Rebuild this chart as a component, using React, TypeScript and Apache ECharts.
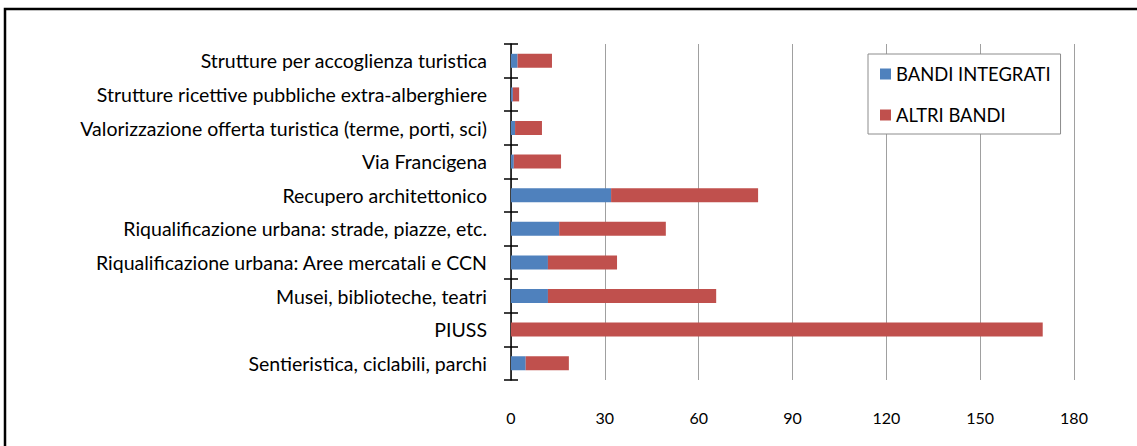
import React, { useEffect, useRef } from "react";
import * as echarts from "echarts";

const categories = [
  "Sentieristica, ciclabili, parchi",
  "PIUSS",
  "Musei, biblioteche, teatri",
  "Riqualificazione urbana: Aree mercatali e CCN",
  "Riqualificazione urbana: strade, piazze, etc.",
  "Recupero architettonico",
  "Via Francigena",
  "Valorizzazione offerta turistica (terme, porti, sci)",
  "Strutture ricettive pubbliche extra-alberghiere",
  "Strutture per accoglienza turistica",
];

const bandiIntegrati = [4.7, 0, 11.8, 11.8, 15.4, 32, 0.9, 1.3, 0.6, 2.1];
const altriBandi = [13.8, 170, 53.8, 22.1, 34.1, 47, 15.1, 8.6, 2.0, 11.0];

const seriesNames = ["BANDI INTEGRATI", "ALTRI BANDI"];
const xTicks = { min: 0, max: 180, interval: 30 };

const FONT = "Lato, 'Open Sans', sans-serif";

export default function App() {
  const ref = useRef<HTMLDivElement>(null);

  useEffect(() => {
    if (!ref.current) return;
    const chart = echarts.init(ref.current, undefined, { renderer: "svg" });
    chart.setOption({
      animation: false,
      backgroundColor: "#ffffff",
      textStyle: { fontFamily: FONT },
      grid: { left: 511, right: 63, top: 44, bottom: 66, containLabel: false },
      legend: {
        orient: "vertical",
        left: 868,
        top: 54,
        data: seriesNames,
        icon: "rect",
        itemWidth: 11,
        itemHeight: 11,
        itemGap: 21,
        padding: [10, 10, 9, 12],
        borderColor: "#8c8c8c",
        borderWidth: 1,
        backgroundColor: "#ffffff",
        textStyle: { fontSize: 18.4, color: "#000", fontFamily: FONT, lineHeight: 20 },
      },
      xAxis: {
        type: "value",
        min: xTicks.min,
        max: xTicks.max,
        interval: xTicks.interval,
        axisLine: { show: false },
        axisTick: { show: false },
        axisLabel: { color: "#000", fontSize: 16, margin: 29, fontFamily: FONT },
        splitLine: { show: true, lineStyle: { color: "#a0a0a0", width: 1 } },
      },
      yAxis: [
        {
          type: "category",
          data: categories,
          position: "left",
          axisLine: { show: true, lineStyle: { color: "#000", width: 1.5 } },
          axisTick: { show: true, length: 7, lineStyle: { color: "#000", width: 1.5 } },
          axisLabel: { color: "#000", fontSize: 19.5, margin: 24, fontFamily: FONT },
          splitLine: { show: false },
        },
        {
          type: "category",
          data: categories,
          position: "left",
          offset: 0,
          axisLine: { show: false },
          axisTick: { show: true, inside: true, length: 7, lineStyle: { color: "#000", width: 1.5 } },
          axisLabel: { show: false },
          splitLine: { show: false },
        },
      ],
      series: [
        {
          name: seriesNames[0],
          type: "bar",
          stack: "total",
          data: bandiIntegrati,
          barWidth: 14,
          itemStyle: { color: "#4F81BD" },
        },
        {
          name: seriesNames[1],
          type: "bar",
          stack: "total",
          data: altriBandi,
          barWidth: 14,
          itemStyle: { color: "#C0504D" },
        },
      ],
      graphic: [
        {
          type: "rect",
          shape: { x: 5, y: 9, width: 1160, height: 460 },
          style: { fill: "none", stroke: "#000", lineWidth: 2.5 },
          silent: true,
          z: 100,
        },
      ],
    });
    return () => chart.dispose();
  }, []);

  return (
    <div
      ref={ref}
      style={{ position: "fixed", left: 0, top: 0, width: 1137, height: 446 }}
    />
  );
}
